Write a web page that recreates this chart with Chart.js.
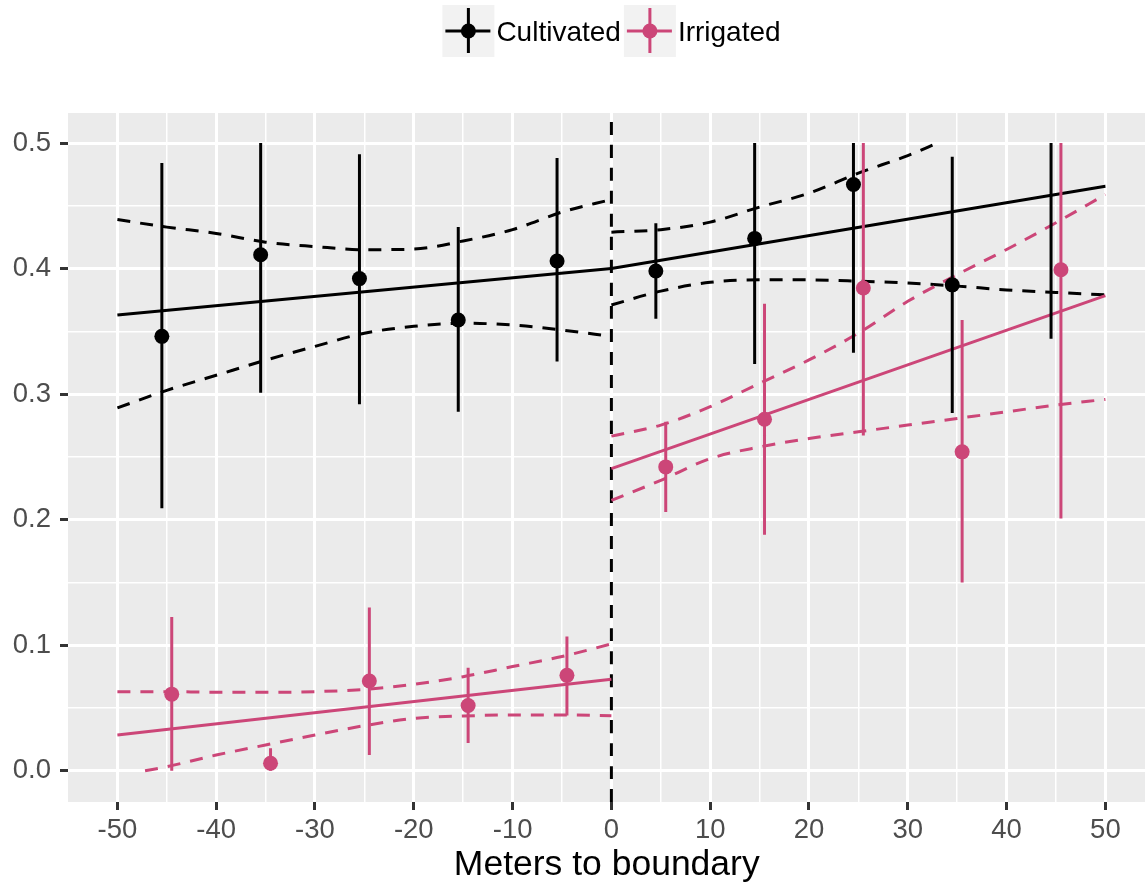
<!DOCTYPE html>
<html><head><meta charset="utf-8">
<script src="https://cdn.jsdelivr.net/npm/chart.js@4.4.1/dist/chart.umd.min.js"></script>
<style>html,body{margin:0;padding:0;overflow:hidden;background:#fff}#wrap{width:1145px;height:892px;overflow:hidden}canvas{display:block}</style>
</head><body><div id="wrap"><canvas id="c" width="1153" height="892" style="width:1153px;height:892px"></canvas></div>
<script>
// ---------- data ----------
const seriesNames = ['Cultivated', 'Irrigated'];
const binCenters = [-45, -35, -25, -15, -5, 5, 15, 25, 35, 45];
const dodgeOffset = 0.5;

const cultMean = [0.346, 0.411, 0.392, 0.359, 0.406, 0.398, 0.424, 0.467, 0.387, null];
const cultLow  = [0.209, 0.301, 0.292, 0.286, 0.326, 0.360, 0.324, 0.333, 0.285, 0.344];
const cultHigh = [0.484, 0.500, 0.491, 0.433, 0.488, 0.436, 0.500, 0.500, 0.489, 0.500];

const irrMean = [0.061, 0.006, 0.0715, 0.052, 0.076, 0.242, 0.280, 0.3845, 0.254, 0.399];
const irrLow  = [0.000, 0.000, 0.0125, 0.022, 0.044, 0.206, 0.188, 0.267, 0.150, 0.201];
const irrHigh = [0.1225, 0.018, 0.130, 0.082, 0.107, 0.278, 0.372, 0.500, 0.359, 0.500];

const fitLeftX  = [-50, 0];
const fitRightX = [0, 50];
const cultFitLeft  = [0.363, 0.400];
const cultFitRight = [0.400, 0.4655];
const irrFitLeft   = [0.0284, 0.0728];
const irrFitRight  = [0.2406, 0.3784];

const bandLeftX  = [-50, -45, -40, -35, -30, -25, -20, -15, -10, -5, 0];
const bandRightX = [0, 5, 10, 15, 20, 25, 30, 35, 40, 45, 50];
const cultUpperLeft  = [0.439, 0.433, 0.428, 0.421, 0.4175, 0.415, 0.4155, 0.422, 0.431, 0.445, 0.455];
const cultLowerLeft  = [0.289, 0.303, 0.315, 0.327, 0.338, 0.3485, 0.354, 0.3565, 0.355, 0.351, 0.346];
const cultUpperRightX = [0, 5, 10, 15, 20, 25, 30, 33];
const cultUpperRight = [0.429, 0.431, 0.437, 0.449, 0.460, 0.476, 0.490, 0.500];
const cultLowerRight = [0.371, 0.382, 0.389, 0.391, 0.391, 0.390, 0.3885, 0.386, 0.383, 0.381, 0.379];
const irrUpperLeft   = [0.063, 0.063, 0.0625, 0.0625, 0.063, 0.0648, 0.0688, 0.0749, 0.083, 0.091, 0.101];
const irrLowerLeftX  = [-47.2, -45, -40, -35, -30, -25, -20, -15, -10, -5, 0];
const irrLowerLeft   = [0.000, 0.0032, 0.0125, 0.0205, 0.0284, 0.0359, 0.0417, 0.0436, 0.0444, 0.0444, 0.0438];
const irrUpperRight  = [0.2665, 0.2753, 0.290, 0.3086, 0.3272, 0.3486, 0.3739, 0.3952, 0.4152, 0.4365, 0.459];
const irrLowerRight  = [0.2153, 0.2313, 0.2486, 0.2579, 0.2646, 0.270, 0.2753, 0.2806, 0.2859, 0.2913, 0.2958];

const boundaryX = 0;
const xTicks = [-50, -40, -30, -20, -10, 0, 10, 20, 30, 40, 50];
const xTickLabels = ['-50', '-40', '-30', '-20', '-10', '0', '10', '20', '30', '40', '50'];
const yTicks = [0, 0.1, 0.2, 0.3, 0.4, 0.5];
const yTickLabels = ['0.0', '0.1', '0.2', '0.3', '0.4', '0.5'];
const xRange = [-55, 54.06];
const yRange = [-0.0249, 0.5239];
const xTitle = 'Meters to boundary';

// ---------- styles ----------
const BLACK = '#000000';
const PINK = '#CC4678';
const FONT = '"Liberation Sans", Arial, Helvetica, sans-serif';
const DASH = [13, 10];

const pts = (xs, ys) => xs.map((x, i) => ({x, y: ys[i]}));
function barData(xs, lo, hi) {
  const d = [];
  xs.forEach((x, i) => { d.push({x, y: lo[i]}, {x, y: hi[i]}, {x, y: null}); });
  return d;
}
const cultX = binCenters.map(c => c - dodgeOffset);
const irrX = binCenters.map(c => c + dodgeOffset);

function withMinor(major) {
  const out = [];
  for (let i = 0; i < major.length; i++) {
    out.push(major[i]);
    if (i < major.length - 1) out.push((major[i] + major[i + 1]) / 2);
  }
  return out;
}
const isMajor = (arr, v) => arr.some(m => Math.abs(m - v) < 1e-9);

function lineDs(data, color, dashed, order) {
  return {data, showLine: true, borderColor: color, borderWidth: 3, pointRadius: 0, pointHoverRadius: 0,
    borderDash: dashed ? DASH : [], borderCapStyle: 'butt', fill: false, cubicInterpolationMode: 'monotone',
    spanGaps: false, order};
}

const datasets = [
  {data: pts(irrX, irrMean), pointRadius: 7.5, pointBackgroundColor: PINK, pointBorderWidth: 0, showLine: false, order: 0},
  {data: pts(cultX, cultMean), pointRadius: 7.5, pointBackgroundColor: BLACK, pointBorderWidth: 0, showLine: false, order: 1},
  lineDs(barData(irrX, irrLow, irrHigh), PINK, false, 2),
  lineDs(barData(cultX, cultLow, cultHigh), BLACK, false, 3),
  lineDs(pts(fitLeftX, irrFitLeft), PINK, false, 4),
  lineDs(pts(fitRightX, irrFitRight), PINK, false, 4),
  lineDs(pts(bandLeftX, irrUpperLeft), PINK, true, 4),
  lineDs(pts(irrLowerLeftX, irrLowerLeft), PINK, true, 4),
  lineDs(pts(bandRightX, irrUpperRight), PINK, true, 4),
  lineDs(pts(bandRightX, irrLowerRight), PINK, true, 4),
  lineDs(pts(fitLeftX, cultFitLeft), BLACK, false, 5),
  lineDs(pts(fitRightX, cultFitRight), BLACK, false, 5),
  lineDs(pts(bandLeftX, cultUpperLeft), BLACK, true, 5),
  lineDs(pts(bandLeftX, cultLowerLeft), BLACK, true, 5),
  lineDs(pts(cultUpperRightX, cultUpperRight), BLACK, true, 5),
  lineDs(pts(bandRightX, cultLowerRight), BLACK, true, 5),
  lineDs([{x: boundaryX, y: yRange[0]}, {x: boundaryX, y: yRange[1]}], BLACK, true, 6),
];

const panelPlugin = {
  id: 'panel',
  beforeDraw(chart) {
    const {ctx, chartArea: a} = chart;
    ctx.save();
    ctx.fillStyle = '#FFFFFF';
    ctx.fillRect(0, 0, chart.width, chart.height);
    ctx.fillStyle = '#EBEBEB';
    ctx.fillRect(a.left, a.top, chart.width - a.left, a.bottom - a.top);
    ctx.restore();
  }
};

const legendPlugin = {
  id: 'ggLegend',
  afterDraw(chart) {
    const ctx = chart.ctx;
    ctx.save();
    ctx.font = '28px ' + FONT;
    const colors = [BLACK, PINK];
    const key = 52, gapText = 2, gapItem = 3;
    const widths = seriesNames.map(n => ctx.measureText(n).width);
    const total = widths.reduce((s, w) => s + key + gapText + w, 0) + gapItem * (seriesNames.length - 1);
    let x = 611.5 - total / 2;
    const top = 5, cy = top + key / 2;
    seriesNames.forEach((name, i) => {
      ctx.fillStyle = '#F2F2F2';
      ctx.fillRect(x, top, key, key);
      ctx.strokeStyle = colors[i];
      ctx.lineWidth = 3;
      ctx.beginPath();
      ctx.moveTo(x + 3, cy); ctx.lineTo(x + key - 4, cy);
      ctx.moveTo(x + key / 2, top + 3); ctx.lineTo(x + key / 2, top + key - 4);
      ctx.stroke();
      ctx.beginPath();
      ctx.arc(x + key / 2, cy, 7.5, 0, Math.PI * 2);
      ctx.fillStyle = colors[i];
      ctx.fill();
      ctx.fillStyle = '#000000';
      ctx.textBaseline = 'alphabetic';
      ctx.textAlign = 'left';
      ctx.fillText(name, x + key + gapText, 41);
      x += key + gapText + widths[i] + gapItem;
    });
    ctx.restore();
  }
};

new Chart(document.getElementById('c'), {
  type: 'scatter',
  data: {datasets},
  plugins: [panelPlugin, legendPlugin],
  options: {
    responsive: false,
    maintainAspectRatio: false,
    devicePixelRatio: 1,
    animation: false,
    events: [],
    layout: {padding: {top: 113, right: 0, left: 0, bottom: 0}},
    plugins: {legend: {display: false}, tooltip: {enabled: false}},
    scales: {
      x: {
        type: 'linear', min: xRange[0], max: xRange[1],
        afterBuildTicks: s => { s.ticks = withMinor(xTicks).map(v => ({value: v})); },
        afterFit: s => { s.height = 90; s.paddingLeft = 0; s.paddingRight = 0; },
        border: {display: false},
        grid: {
          color: '#FFFFFF',
          lineWidth: c => isMajor(xTicks, c.tick.value) ? 3 : 1.5,
          tickColor: c => isMajor(xTicks, c.tick.value) ? '#333333' : 'rgba(0,0,0,0)',
          tickWidth: 3, tickLength: 8, drawTicks: true,
        },
        ticks: {
          color: '#4D4D4D', font: {family: FONT, size: 27.5}, padding: 4, maxRotation: 0, autoSkip: false,
          callback: v => { const i = xTicks.findIndex(t => Math.abs(t - v) < 1e-9); return i >= 0 ? xTickLabels[i] : ''; }
        },
        title: {display: true, text: xTitle, color: '#000000', font: {family: FONT, size: 35.5}, padding: {top: 0, bottom: 5}}
      },
      y: {
        type: 'linear', min: yRange[0], max: yRange[1],
        afterBuildTicks: s => { s.ticks = withMinor(yTicks).map(v => ({value: v})); },
        afterFit: s => { s.width = 68; s.paddingTop = 0; s.paddingBottom = 0; },
        border: {display: false},
        grid: {
          color: '#FFFFFF',
          lineWidth: c => isMajor(yTicks, c.tick.value) ? 3 : 1.5,
          tickColor: c => isMajor(yTicks, c.tick.value) ? '#333333' : 'rgba(0,0,0,0)',
          tickWidth: 3, tickLength: 8, drawTicks: true,
        },
        ticks: {
          color: '#4D4D4D', font: {family: FONT, size: 27.5}, padding: 9, autoSkip: false,
          callback: v => { const i = yTicks.findIndex(t => Math.abs(t - v) < 1e-9); return i >= 0 ? yTickLabels[i] : ''; }
        }
      }
    }
  }
});
</script>
</body></html>
